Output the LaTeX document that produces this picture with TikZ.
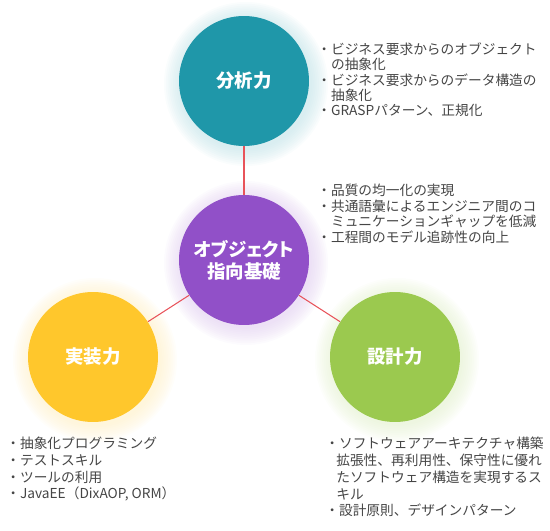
\documentclass[tikz,border=0pt]{standalone}
\usepackage{fontspec}
\setmainfont{Noto Sans CJK JP}
\newfontfamily\titlefont{Noto Sans CJK JP}[RawFeature=+palt]
\definecolor{tealc}{HTML}{1F97A9}
\definecolor{purplec}{HTML}{9150C8}
\definecolor{yellowc}{HTML}{FFC72C}
\definecolor{greenc}{HTML}{9BC94F}
\definecolor{linkc}{HTML}{E8535A}
\definecolor{textc}{HTML}{454545}
% soft halo round a circle: centre, colour
\newcommand\halo[2]{%
  \foreach \k in {1,...,10}{\fill[#2, opacity=0.08] (#1) ++(2,3) circle ({64+\k*1.8});}}
\begin{document}
\begin{tikzpicture}[x=0.02cm, y=-0.02cm,
    skill/.style={circle, minimum size=2.6cm, inner sep=0pt, text=white, align=center, font=\titlefont\bfseries\fontsize{10.5}{12.5}\selectfont},
    note/.style={anchor=north west, inner sep=0pt, align=left, text=textc, font=\fontsize{7.8}{8.8}\selectfont},
    widenote/.style={note, font=\fontsize{7.8}{9.5}\selectfont},
    link/.style={draw=linkc, line width=0.6pt}
]
\useasboundingbox (0,0) rectangle (550,530);

% Halos
\halo{244,81}{tealc!30}
\halo{244,260}{purplec!30}
\halo{93,357}{yellowc!30}
\halo{395,357}{greenc!30}

% Circles
\node[skill, fill=tealc] (ana) at (244,81) {分析力};
\node[skill, fill=purplec] (base) at (244,260) {オブジェクト\\指向基礎};
\node[skill, fill=yellowc] (impl) at (93,357) {実装力};
\node[skill, fill=greenc] (des) at (395,357) {設計力};

% Links
\draw[link] (ana) -- (base);
\draw[link] (base) -- (impl);
\draw[link] (base) -- (des);

% Notes
\node[note] (anaNote) at (317,42) {・ビジネス要求からのオブジェクト\\
  \hspace*{1em}の抽象化\\
  ・ビジネス要求からのデータ構造の\\
  \hspace*{1em}抽象化\\
  ・GRASPパターン、正規化};
\node[note] (baseNote) at (317,184) {・品質の均一化の実現\\
  ・共通語彙によるエンジニア間のコ\\
  \hspace*{1em}ミュニケーションギャップを低減\\
  ・工程間のモデル追跡性の向上};
\node[widenote] (implNote) at (6,437) {・抽象化プログラミング\\
  ・テストスキル\\
  ・ツールの利用\\
  ・JavaEE（DixAOP, ORM）};
\node[widenote] (desNote) at (325,437) {・ソフトウェアアーキテクチャ構築\\
  \hspace*{0.8em}拡張性、再利用性、保守性に優れ\\
  \hspace*{0.8em}たソフトウェア構造を実現するス\\
  \hspace*{0.8em}キル\\
  ・設計原則、デザインパターン};

\end{tikzpicture}
\end{document}
